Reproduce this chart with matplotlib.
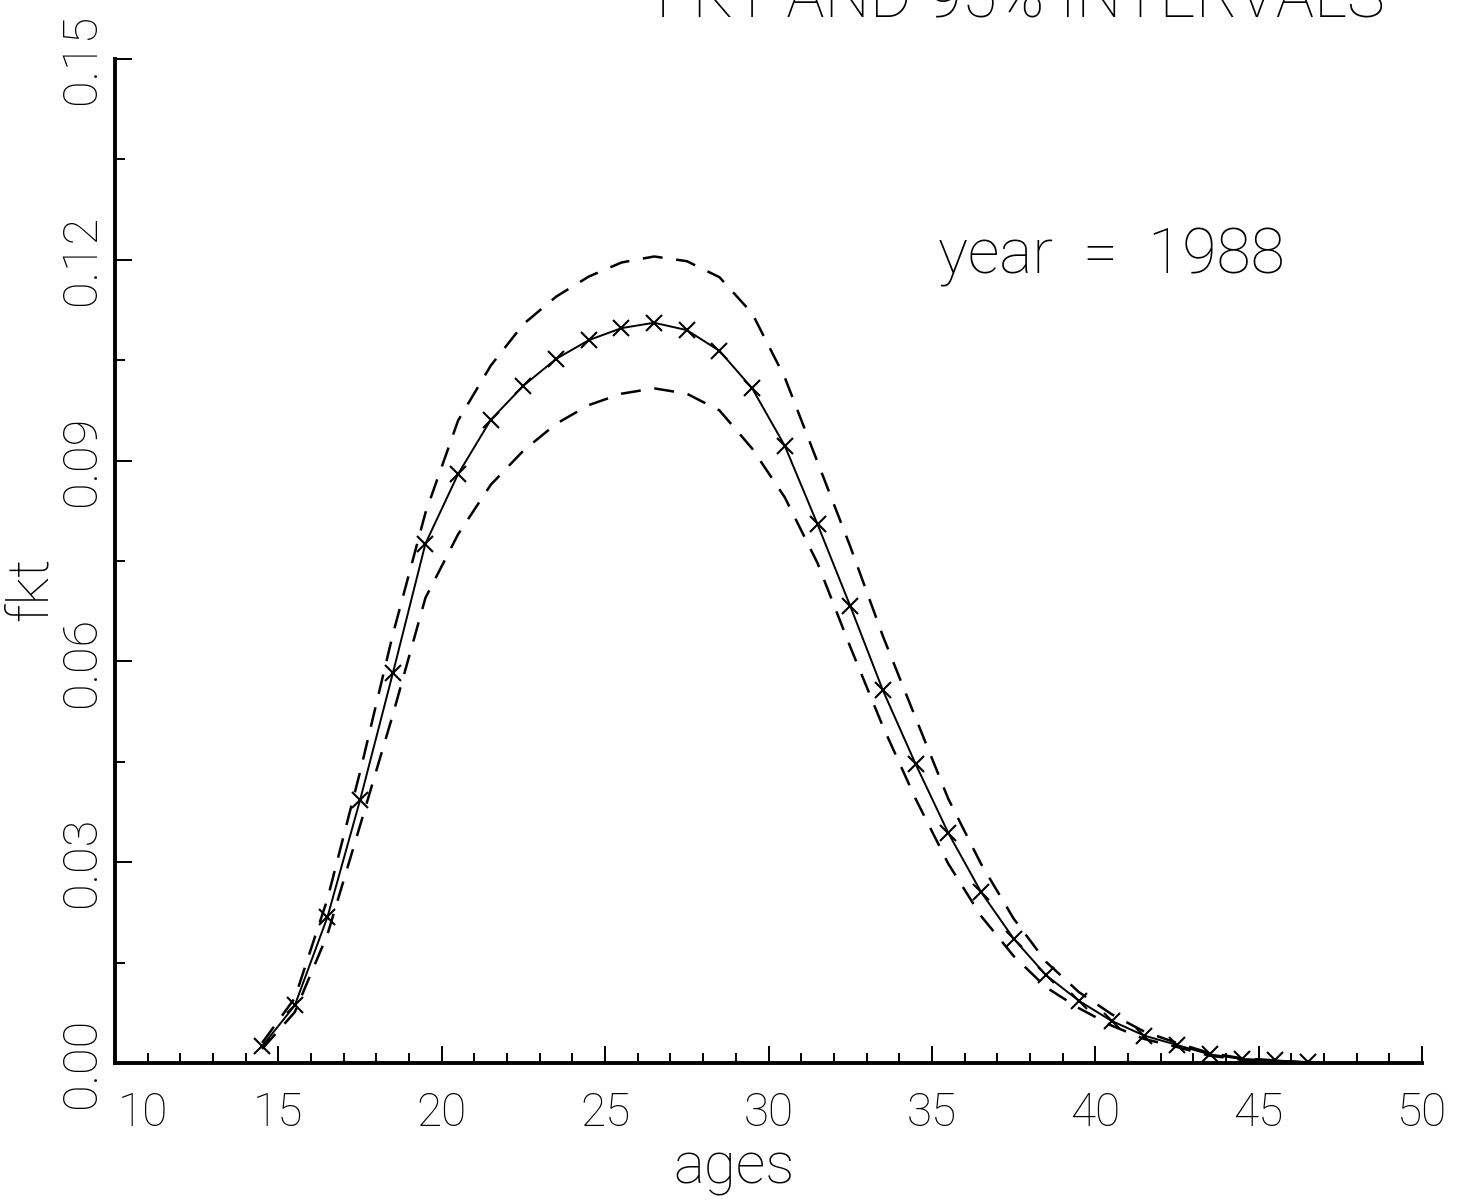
import numpy as np
import matplotlib
matplotlib.use('Agg')
import matplotlib.pyplot as plt
from matplotlib.ticker import MultipleLocator
import matplotlib.transforms as mtransforms

plt.rcParams['font.family'] = ['Roboto', 'DejaVu Sans']
plt.rcParams['font.weight'] = 'light'
plt.rcParams['axes.labelweight'] = 'light'

# age group midpoints
ages = [14.5, 15.5, 16.5, 17.5, 18.5, 19.5, 20.5, 21.5, 22.5, 23.5, 24.5,
        25.5, 26.5, 27.5, 28.5, 29.5, 30.5, 31.5, 32.5, 33.5, 34.5, 35.5,
        36.5, 37.5, 38.5, 39.5, 40.5, 41.5, 42.5, 43.5, 44.5, 45.5, 46.5]

# estimated fkt
fkt = [0.0025, 0.0086, 0.0218, 0.0393, 0.0582, 0.0776, 0.0880, 0.0961,
       0.1012, 0.1052, 0.1080, 0.1098, 0.1106, 0.1095, 0.1064, 0.1008,
       0.0922, 0.0805, 0.0683, 0.0557, 0.0447, 0.0344, 0.0256, 0.0186,
       0.0131, 0.0093, 0.0063, 0.0041, 0.0027, 0.0013, 0.0006, 0.0004,
       0.0001]

# 95% bounds
upper = [0.0030, 0.0097, 0.0245, 0.0435, 0.0640, 0.0822, 0.0960, 0.1042,
         0.1104, 0.1145, 0.1175, 0.1196, 0.1205, 0.1198, 0.1174, 0.1120,
         0.1024, 0.0898, 0.0772, 0.0638, 0.0516, 0.0395, 0.0298, 0.0216,
         0.0151, 0.0106, 0.0073, 0.0047, 0.0030, 0.0015, 0.0007, 0.0004,
         0.0001]
lower = [0.0021, 0.0076, 0.0192, 0.0355, 0.0520, 0.0695, 0.0790, 0.0864,
         0.0915, 0.0955, 0.0983, 0.1000, 0.1008, 0.1000, 0.0975, 0.0918,
         0.0845, 0.0747, 0.0622, 0.0503, 0.0395, 0.0298, 0.0220, 0.0160,
         0.0113, 0.0082, 0.0056, 0.0036, 0.0024, 0.0011, 0.0005, 0.0003,
         0.0001]

year = 1988
x_ticks = [10, 15, 20, 25, 30, 35, 40, 45, 50]
y_ticks = [0.00, 0.03, 0.06, 0.09, 0.12, 0.15]

fig = plt.figure(figsize=(14.62, 12.02), dpi=100)
ax = fig.add_axes([0.0787, 0.1156, 0.8939, 0.8353])

ax.plot(ages, fkt, color='black', linewidth=1.4, marker='x',
        markersize=11, markeredgewidth=1.5)
ax.plot(ages, upper, color='black', linewidth=1.8, linestyle=(0, (8, 5.5)))
ax.plot(ages, lower, color='black', linewidth=1.8, linestyle=(0, (8, 5.5)))

ax.set_xlim(10, 50)
ax.set_ylim(0, 0.15)

for s in ['top', 'right']:
    ax.spines[s].set_visible(False)
for s in ['left', 'bottom']:
    ax.spines[s].set_linewidth(2.8)

ax.set_xticks(x_ticks)
ax.set_yticks(y_ticks)
ax.xaxis.set_minor_locator(MultipleLocator(1))
ax.yaxis.set_minor_locator(MultipleLocator(0.015))
ax.set_xticklabels([str(v) for v in x_ticks])
ax.set_yticklabels(['%.2f' % v for v in y_ticks])
ax.tick_params(which='major', direction='in', length=12, width=1.4)
ax.tick_params(which='minor', direction='in', length=7, width=1.4)
ax.tick_params(axis='x', labelsize=33, pad=20)
ax.tick_params(axis='y', labelsize=35, pad=7)
plt.setp(ax.get_yticklabels(), rotation=90, va='center')

# first x label sits right of the corner
lab = ax.xaxis.get_major_ticks()[0].label1
lab.set_transform(lab.get_transform() +
                  mtransforms.ScaledTranslation(0.28, 0, fig.dpi_scale_trans))

ax.set_xlabel('ages', fontsize=42, fontweight='light')
ax.xaxis.set_label_coords(0.474, -0.078)
ax.set_ylabel('fkt', fontsize=42, fontweight='light')
ax.yaxis.set_label_coords(-0.043, 0.472)

ax.text(35.2, 0.1205, 'year  =  %d' % year, fontsize=45, ha='left', va='center')

# title cut off at top of the scan
fig.text(0.947, 1 - 17 / 1202, 'FKT AND 95% INTERVALS', fontsize=46,
         ha='right', va='baseline')

fig.savefig('out.png', dpi=100)
